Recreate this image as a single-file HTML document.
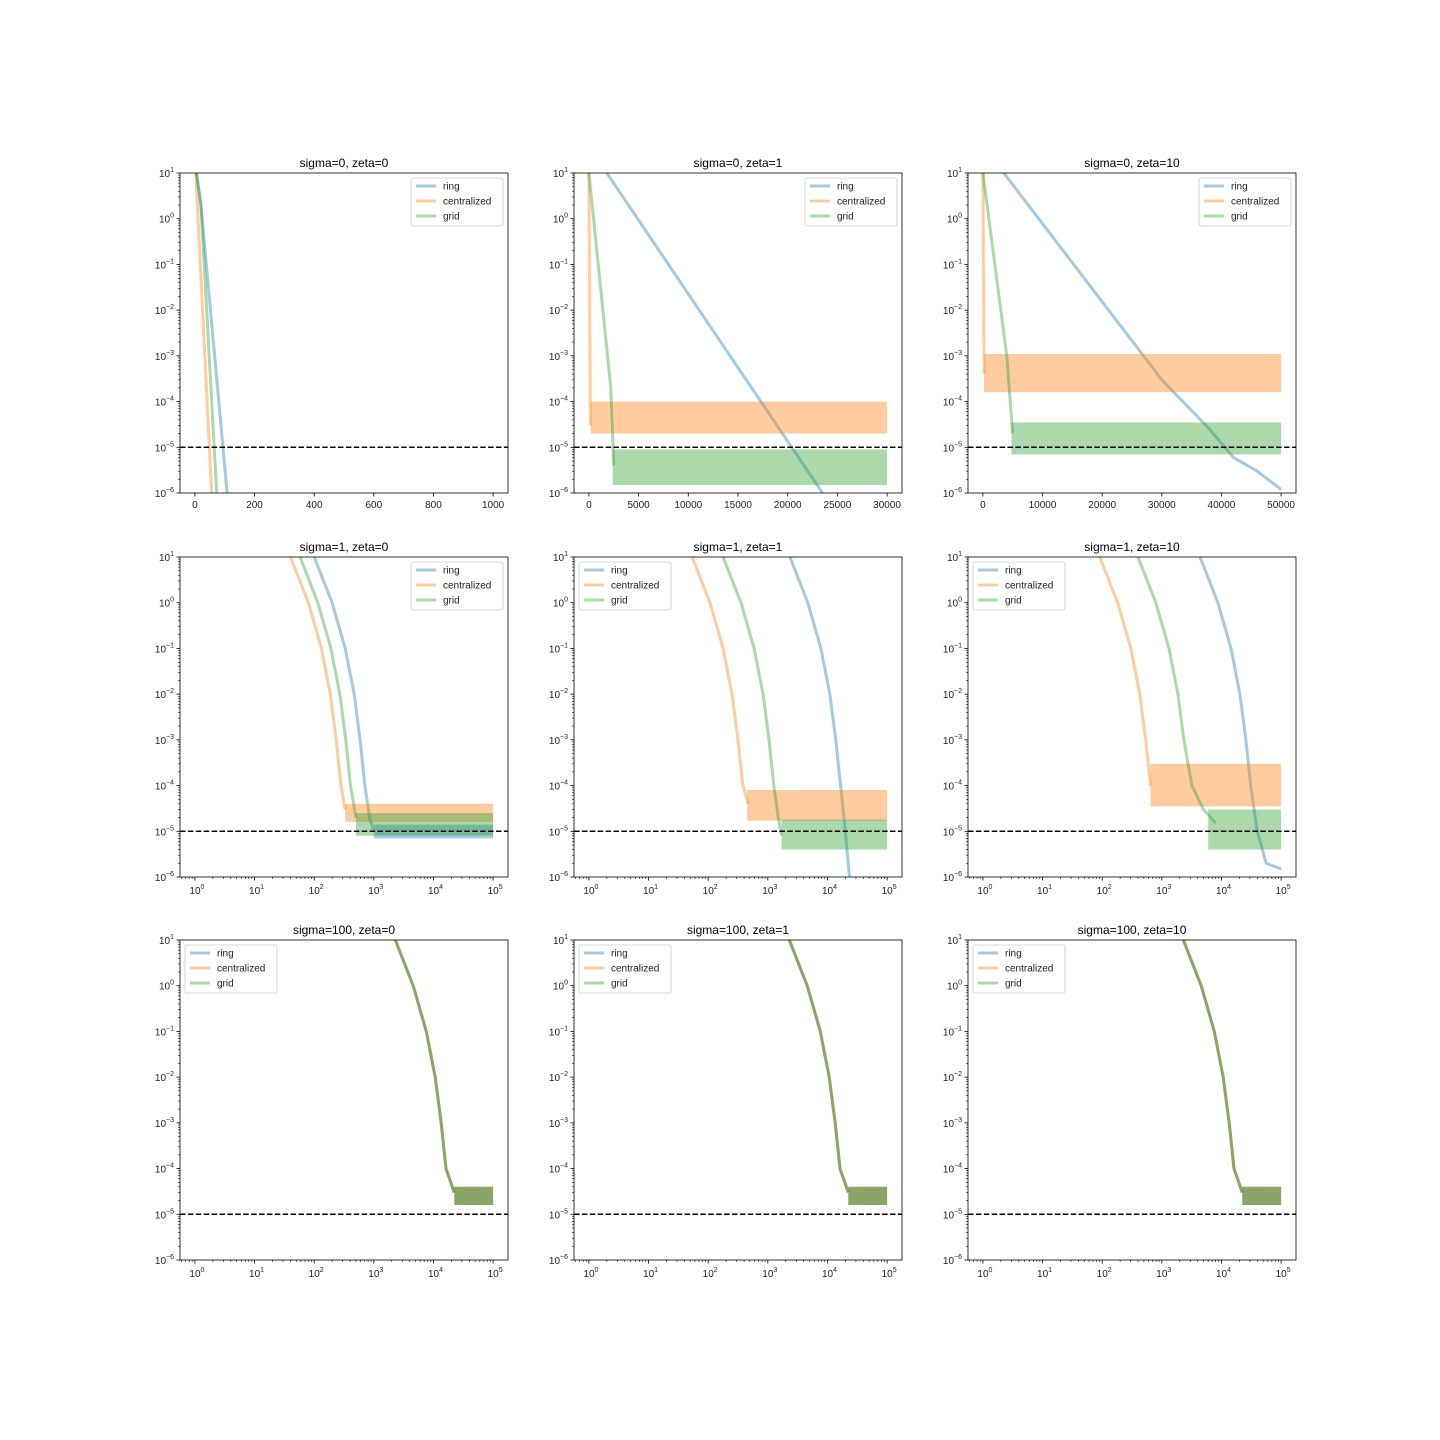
<!DOCTYPE html>
<html><head><meta charset="utf-8"><style>
html,body{margin:0;padding:0;background:#fff;}
svg{display:block;font-family:"Liberation Sans","DejaVu Sans",sans-serif;}
</style></head><body>
<svg id="fig" width="1440" height="1440" viewBox="0 0 1440 1440" xmlns="http://www.w3.org/2000/svg"></svg>
<script>
// ---- data ----
const titles = ["sigma=0, zeta=0","sigma=0, zeta=1","sigma=0, zeta=10","sigma=1, zeta=0","sigma=1, zeta=1","sigma=1, zeta=10","sigma=100, zeta=0","sigma=100, zeta=1","sigma=100, zeta=10"];
const seriesNames = ["ring","centralized","grid"];
const linTicks0 = [0,200,400,600,800,1000];
const linTicks1 = [0,5000,10000,15000,20000,25000,30000];
const linTicks2 = [0,10000,20000,30000,40000,50000];
const logXTickExps = [0,1,2,3,4,5];
const yTickExps = [1,0,-1,-2,-3,-4,-5,-6];
const threshold = 1e-5;
// each series: line points [x,y] and optional noisy band [x0,x1,lo,hi]
const p0_ring = [[5,10],[20,2],[108,1e-6]];
const p0_cent = [[3,10],[56,1e-6]];
const p0_grid = [[5,10],[20,2],[73,1e-6]];
const p1_ring = [[1800,10],[23500,1e-6]];
const p1_cent = [[0,10],[150,3e-5]];
const p1_centBand = [200,30000,2e-5,1e-4];
const p1_grid = [[0,10],[2200,2e-4],[2500,4e-6]];
const p1_gridBand = [2400,30000,1.5e-6,9e-6];
const p2_ring = [[3500,10],[30000,3e-4],[38000,2.5e-5],[42000,6e-6],[46000,3e-6],[50000,1.2e-6]];
const p2_cent = [[0,10],[200,4e-4]];
const p2_centBand = [200,50000,1.6e-4,1.1e-3];
const p2_grid = [[0,10],[4000,1e-3],[5000,2e-5]];
const p2_gridBand = [4800,50000,7e-6,3.5e-5];
const p3_ring = [[100,10],[200,1],[331,1e-1],[468,1e-2],[589,1e-3],[708,1e-4],[850,2e-5],[1000,1e-5]];
const p3_ringBand = [1000,100000,7e-6,1.4e-5];
const p3_cent = [[40,10],[80,1],[132,1e-1],[186,1e-2],[234,1e-3],[282,1e-4],[330,3e-5]];
const p3_centBand = [330,100000,1.6e-5,4e-5];
const p3_grid = [[58,10],[115,1],[191,1e-1],[269,1e-2],[339,1e-3],[407,1e-4],[500,2e-5]];
const p3_gridBand = [500,100000,8e-6,2.5e-5];
const p4_ring = [[2344,10],[4677,1],[7762,1e-1],[10965,1e-2],[13804,1e-3],[16596,1e-4],[19953,1e-5],[23442,1e-6]];
const p4_cent = [[54,10],[107,1],[178,1e-1],[251,1e-2],[316,1e-3],[380,1e-4],[470,4e-5]];
const p4_centBand = [450,100000,1.7e-5,8e-5];
const p4_grid = [[178,10],[355,1],[589,1e-1],[832,1e-2],[1047,1e-3],[1259,1e-4],[1500,2e-5],[1700,8e-6]];
const p4_gridBand = [1700,100000,4e-6,1.8e-5];
const p5_ring = [[4365,10],[8710,1],[14454,1e-1],[20417,1e-2],[25704,1e-3],[30903,1e-4],[39811,1e-5],[56234,2e-6],[100000,1.5e-6]];
const p5_cent = [[91,10],[182,1],[302,1e-1],[427,1e-2],[537,1e-3],[646,1e-4]];
const p5_centBand = [646,100000,3.5e-5,3e-4];
const p5_grid = [[398,10],[794,1],[1318,1e-1],[1862,1e-2],[2344,1e-3],[3200,1e-4],[5000,3e-5],[8000,1.5e-5]];
const p5_gridBand = [6000,100000,4e-6,3e-5];
const p6_all = [[2291,10],[4571,1],[7586,1e-1],[10715,1e-2],[13490,1e-3],[16218,1e-4],[22387,3e-5]];
const p6_allBand = [22387,100000,1.6e-5,4e-5];
// ---- layout ----
const colX = [180,574,968], rowY = [173,557,940], PW = 328, PH = 320;
const colors = ["#1f77b4","#ff7f0e","#2ca02c"];
const panels = [
 {type:"lin",dom:[-50,1050],ticks:linTicks0,legend:"r",s:[[p0_ring],[p0_cent],[p0_grid]]},
 {type:"lin",dom:[-1500,31500],ticks:linTicks1,legend:"r",s:[[p1_ring],[p1_cent,p1_centBand],[p1_grid,p1_gridBand]]},
 {type:"lin",dom:[-2500,52500],ticks:linTicks2,legend:"r",s:[[p2_ring],[p2_cent,p2_centBand],[p2_grid,p2_gridBand]]},
 {type:"log",legend:"r",s:[[p3_ring,p3_ringBand],[p3_cent,p3_centBand],[p3_grid,p3_gridBand]]},
 {type:"log",legend:"l",s:[[p4_ring],[p4_cent,p4_centBand],[p4_grid,p4_gridBand]]},
 {type:"log",legend:"l",s:[[p5_ring],[p5_cent,p5_centBand],[p5_grid,p5_gridBand]]},
 {type:"log",legend:"l",s:[[p6_all,p6_allBand],[p6_all,p6_allBand],[p6_all,p6_allBand]]},
 {type:"log",legend:"l",s:[[p6_all,p6_allBand],[p6_all,p6_allBand],[p6_all,p6_allBand]]},
 {type:"log",legend:"l",s:[[p6_all,p6_allBand],[p6_all,p6_allBand],[p6_all,p6_allBand]]}
];
const NS="http://www.w3.org/2000/svg";
const fig=document.getElementById('fig');
function mk(tag,attrs,parent){const e=document.createElementNS(NS,tag);for(const k in attrs)e.setAttribute(k,attrs[k]);(parent||fig).appendChild(e);return e;}
function sup(parent,x,y,exp,anchor){
  const t=mk('text',{x:x,y:y,'font-size':10,'text-anchor':anchor,fill:'#222'},parent);
  t.appendChild(document.createTextNode('10'));
  const ts=mk('tspan',{dy:-5,'font-size':7},t);ts.textContent=String(exp).replace('-','\u2212');
  return t;
}
const defs=mk('defs',{});
panels.forEach((p,i)=>{
  const x0=colX[i%3], y0=rowY[Math.floor(i/3)];
  const g=mk('g',{});
  
  
  const cp=mk('clipPath',{id:'c'+i},defs);mk('rect',{x:x0,y:y0,width:PW,height:PH},cp);
  const sx = p.type==="lin" ? (v=>x0+(v-p.dom[0])/(p.dom[1]-p.dom[0])*PW)
                            : (v=>x0+(Math.log10(Math.max(v,1e-9))+0.25)/5.5*PW);
  const sy = v=>y0+(1-Math.log10(v))/7*PH;
  const tt=mk('text',{x:x0+PW/2,y:y0-6,'font-size':12,'text-anchor':'middle',fill:'#000'},g);
  tt.textContent=titles[i];
  
  
  const sg=mk('g',{'clip-path':'url(#c'+i+')'},g);
  p.s.forEach((sd,k)=>{
    const pts=sd[0], band=sd[1];
    if(band){
      const r=mk('rect',{x:sx(band[0]),y:sy(band[3]),width:sx(band[1])-sx(band[0]),height:sy(band[2])-sy(band[3]),fill:colors[k],opacity:0.4},sg);
      
      
    }
    const pl=mk('polyline',{points:pts.map(q=>sx(q[0]).toFixed(1)+','+sy(q[1]).toFixed(1)).join(' '),fill:'none',stroke:colors[k],'stroke-width':3,'stroke-opacity':0.4,'stroke-linejoin':'round'},sg);
    
    
  });
  const hl=mk('line',{x1:x0,x2:x0+PW,y1:sy(threshold),y2:sy(threshold),stroke:'#000','stroke-width':1.5,'stroke-dasharray':'5.5,2.4'},g);
  
  
  const fr=mk('rect',{x:x0,y:y0,width:PW,height:PH,fill:'none',stroke:'#000','stroke-width':0.8},g);
  
  
  yTickExps.forEach(e=>{
    const y=sy(Math.pow(10,e));
    mk('line',{x1:x0-3.5,x2:x0,y1:y,y2:y,stroke:'#000','stroke-width':0.8},g);
    const t=sup(g,x0-6,y+4,e,'end');
    
    
    if(e>-6)for(let m=2;m<10;m++){const yy=sy(m*Math.pow(10,e-1));mk('line',{x1:x0-2,x2:x0,y1:yy,y2:yy,stroke:'#000','stroke-width':0.6},g);}
  });
  if(p.type==="lin"){
    p.ticks.forEach(v=>{
      const x=sx(v);
      mk('line',{x1:x,x2:x,y1:y0+PH,y2:y0+PH+3.5,stroke:'#000','stroke-width':0.8},g);
      const t=mk('text',{x:x,y:y0+PH+15,'font-size':10,'text-anchor':'middle',fill:'#222'},g);
      t.textContent=v;
      
      
    });
  } else {
    logXTickExps.forEach(e=>{
      const x=sx(Math.pow(10,e));
      mk('line',{x1:x,x2:x,y1:y0+PH,y2:y0+PH+3.5,stroke:'#000','stroke-width':0.8},g);
      const t=sup(g,x+2,y0+PH+17,e,'middle');
      
      
    });
    for(let e=-1;e<=5;e++)for(let m=2;m<10;m++){const v=m*Math.pow(10,e);const x=sx(v);if(x>x0&&x<x0+PW)mk('line',{x1:x,x2:x,y1:y0+PH,y2:y0+PH+2,stroke:'#000','stroke-width':0.6},g);}
  }
  const lw=92, lx=p.legend==="r"?x0+PW-5-lw:x0+5, ly=y0+5;
  const lg=mk('g',{},g);
  
  
  mk('rect',{x:lx,y:ly,width:lw,height:48,rx:2,fill:'#fff','fill-opacity':0.8,stroke:'#ccc','stroke-width':0.8},lg);
  seriesNames.forEach((n,k)=>{
    const yy=ly+8+k*15;
    const e=mk('g',{},lg);
    
    
    mk('line',{x1:lx+5,x2:lx+25,y1:yy,y2:yy,stroke:colors[k],'stroke-width':3,'stroke-opacity':0.4},e);
    const t=mk('text',{x:lx+32,y:yy+3.5,'font-size':10,fill:'#222'},e);t.textContent=n;
  });
});
</script>
</body></html>
